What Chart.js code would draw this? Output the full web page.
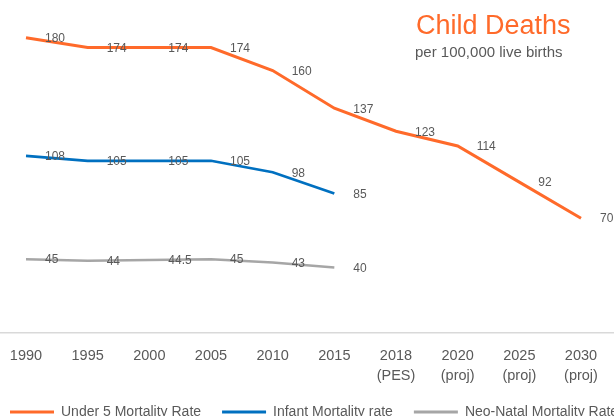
<!DOCTYPE html>
<html>
<head>
<meta charset="utf-8">
<script src="https://cdn.jsdelivr.net/npm/chart.js@4.4.1/dist/chart.umd.min.js"></script>
<style>
  html, body { margin: 0; padding: 0; background: #ffffff; width: 614px; height: 416px; overflow: hidden; }
  #wrap { position: absolute; left: -11px; top: 0; width: 680px; height: 429px; }
  .title { position: absolute; left: 416px; top: 12px; font-family: "Liberation Sans", Arial, sans-serif; font-size: 27px; line-height: 1; color: #FF6A2A; white-space: nowrap; }
  .subtitle { position: absolute; left: 415px; top: 44px; font-family: "Liberation Sans", Arial, sans-serif; font-size: 15px; line-height: 1; color: #595959; white-space: nowrap; }
</style>
</head>
<body>
<div id="wrap"><canvas id="c" width="680" height="429"></canvas></div>
<div class="title">Child Deaths</div>
<div class="subtitle">per 100,000 live births</div>
<script>
// ---- data ----
const categories = ['1990', '1995', '2000', '2005', '2010', '2015', '2018', '2020', '2025', '2030'];
const categoryNotes = ['', '', '', '', '', '', '(PES)', '(proj)', '(proj)', '(proj)'];
const under5Rate = [180, 174, 174, 174, 160, 137, 123, 114, 92, 70];
const infantRate = [108, 105, 105, 105, 98, 85];
const neoNatalRate = [45, 44, 44.5, 45, 43, 40];
const seriesNames = ['Under 5 Mortality Rate', 'Infant Mortality rate', 'Neo-Natal Mortality Rate'];

const toPoints = arr => arr.map((v, i) => ({ x: i, y: v }));

const valueLabels = {
  id: 'valueLabels',
  afterDatasetsDraw(chart) {
    const ctx = chart.ctx;
    ctx.save();
    ctx.font = '12px "Liberation Sans", Arial, sans-serif';
    ctx.fillStyle = '#595959';
    ctx.textAlign = 'left';
    ctx.textBaseline = 'middle';
    chart.data.datasets.forEach((ds, di) => {
      const meta = chart.getDatasetMeta(di);
      meta.data.forEach((pt, i) => {
        ctx.fillText(String(ds.data[i].y), pt.x + 19, pt.y + 1);
      });
    });
    ctx.restore();
  }
};

new Chart(document.getElementById('c'), {
  type: 'line',
  data: {
    datasets: [
      { label: seriesNames[0], data: toPoints(under5Rate), borderColor: '#FF6A2A', backgroundColor: '#FF6A2A', borderWidth: 3 },
      { label: seriesNames[1], data: toPoints(infantRate), borderColor: '#0070C0', backgroundColor: '#0070C0', borderWidth: 2.75 },
      { label: seriesNames[2], data: toPoints(neoNatalRate), borderColor: '#A6A6A6', backgroundColor: '#A6A6A6', borderWidth: 2.5 }
    ]
  },
  options: {
    responsive: false,
    animation: false,
    devicePixelRatio: 1,
    layout: { padding: 0 },
    elements: { point: { radius: 0, hoverRadius: 0 }, line: { tension: 0 } },
    scales: {
      x: {
        type: 'linear',
        min: -0.600,
        max: 10.427,
        afterBuildTicks: scale => { scale.ticks = categories.map((c, i) => ({ value: i })); },
        afterFit: scale => { scale.height = 51; },
        grid: { display: false, drawTicks: false },
        border: { display: true, color: '#D9D9D9', width: 1.5 },
        ticks: {
          autoSkip: false,
          maxRotation: 0,
          padding: 13,
          color: '#595959',
          font: { family: '"Liberation Sans", Arial, sans-serif', size: 14.5, lineHeight: 1.4 },
          callback: (v) => {
            const i = Math.round(v);
            return categoryNotes[i] ? [categories[i], categoryNotes[i]] : categories[i];
          }
        }
      },
      y: { display: false, min: 0, max: 203 }
    },
    plugins: {
      legend: {
        position: 'bottom',
        align: 'start',
        labels: {
          boxWidth: 44,
          boxHeight: 3,
          padding: 21,
          color: '#595959',
          font: { family: '"Liberation Sans", Arial, sans-serif', size: 14 },
          generateLabels: chart => chart.data.datasets.map((ds, i) => ({
            text: ds.label, fillStyle: ds.borderColor, strokeStyle: ds.borderColor,
            lineWidth: 0, hidden: false, datasetIndex: i, fontColor: '#595959'
          }))
        }
      },
      tooltip: { enabled: false },
      title: { display: false }
    }
  },
  plugins: [valueLabels]
});
</script>
</body>
</html>
